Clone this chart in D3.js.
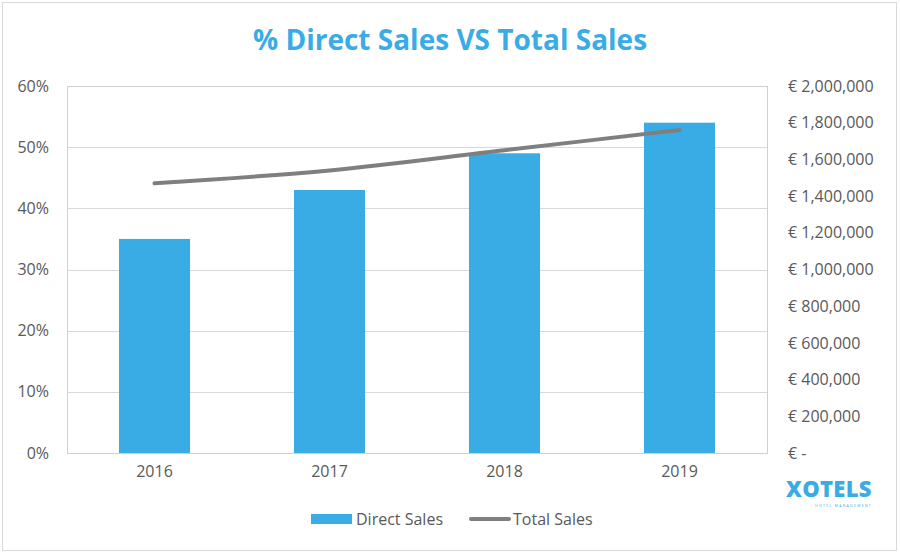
<!DOCTYPE html>
<html><head><meta charset="utf-8">
<script src="https://cdn.jsdelivr.net/npm/d3@7"></script>
<style>body{margin:0;background:#fff;}svg{display:block;}</style>
</head><body>
<svg id="c" width="900" height="554"></svg>
<script>
const years = ["2016", "2017", "2018", "2019"];
const directSales = [0.35, 0.43, 0.49, 0.54];
const totalSales = [1470000, 1540000, 1650000, 1760000];
const leftTicks = [0, 0.1, 0.2, 0.3, 0.4, 0.5, 0.6];
const rightTicks = [0, 200000, 400000, 600000, 800000, 1000000, 1200000, 1400000, 1600000, 1800000, 2000000];
const title = "% Direct Sales VS Total Sales";

const svg = d3.select("#c");
const font = "'Open Sans', sans-serif";
const blue = "#3aace5";
const grey = "#7f7f7f";
const txt = "#595959";

svg.append("rect").attr("x", 2.5).attr("y", 2.5).attr("width", 894).attr("height", 548)
  .attr("fill", "#fff").attr("stroke", "#d9d9d9").attr("stroke-width", 1);

const m = {l: 67, r: 767, t: 86, b: 453};
const x = d3.scaleBand().domain(years).range([m.l, m.r]).paddingInner(0.594).paddingOuter(0.297);
const yL = d3.scaleLinear().domain([0, 0.6]).range([m.b, m.t]);
const yR = d3.scaleLinear().domain([0, 2000000]).range([m.b, m.t]);

// gridlines
svg.append("g").selectAll("line").data(leftTicks).join("line")
  .attr("x1", m.l).attr("x2", m.r)
  .attr("y1", d => Math.round(yL(d)) + 0.5).attr("y2", d => Math.round(yL(d)) + 0.5)
  .attr("stroke", "#d9d9d9").attr("stroke-width", 1);
// plot border
svg.append("rect").attr("x", m.l + 0.5).attr("y", m.t + 0.5).attr("width", m.r - m.l).attr("height", m.b - m.t)
  .attr("fill", "none").attr("stroke", "#d0d0d0").attr("stroke-width", 1);

// left axis
const axL = svg.append("g").attr("transform", `translate(${m.l},0)`)
  .call(d3.axisLeft(yL).tickValues(leftTicks).tickFormat(d3.format(".0%")).tickSize(0).tickPadding(18));
axL.select(".domain").remove();
axL.selectAll("text").attr("font-family", font).attr("font-size", 16).attr("fill", txt);

// right axis
const eur = d => d === 0 ? "€ -" : "€ " + d3.format(",")(d);
const axR = svg.append("g").attr("transform", `translate(${m.r},0)`)
  .call(d3.axisRight(yR).tickValues(rightTicks).tickFormat(eur).tickSize(0).tickPadding(21));
axR.select(".domain").remove();
axR.selectAll("text").attr("font-family", font).attr("font-size", 16).attr("fill", txt);

// bottom axis
const axB = svg.append("g").attr("transform", `translate(0,${m.b})`)
  .call(d3.axisBottom(x).tickSize(0).tickPadding(13));
axB.select(".domain").remove();
axB.selectAll("text").attr("font-family", font).attr("font-size", 16).attr("fill", txt);

// bars
svg.append("g").selectAll("rect").data(years).join("rect")
  .attr("x", d => x(d)).attr("width", x.bandwidth())
  .attr("y", (d, i) => yL(directSales[i])).attr("height", (d, i) => m.b - yL(directSales[i]))
  .attr("fill", blue);

// line
const line = d3.line().x((d, i) => x(years[i]) + x.bandwidth() / 2).y(d => yR(d)).curve(d3.curveMonotoneX);
svg.append("path").datum(totalSales).attr("d", line)
  .attr("fill", "none").attr("stroke", grey).attr("stroke-width", 4).attr("stroke-linecap", "round");

// title
svg.append("text").attr("x", 450).attr("y", 50).attr("text-anchor", "middle")
  .attr("font-family", font).attr("font-weight", "bold").attr("font-size", 28).attr("fill", blue).text(title);

// legend
const lg = svg.append("g");
lg.append("rect").attr("x", 311).attr("y", 514).attr("width", 41).attr("height", 10).attr("fill", blue);
lg.append("text").attr("x", 356).attr("y", 525).attr("font-family", font).attr("font-size", 16).attr("fill", txt).text("Direct Sales");
lg.append("line").attr("x1", 471).attr("x2", 509).attr("y1", 519).attr("y2", 519)
  .attr("stroke", grey).attr("stroke-width", 4).attr("stroke-linecap", "round");
lg.append("text").attr("x", 513).attr("y", 525).attr("font-family", font).attr("font-size", 16).attr("fill", txt).text("Total Sales");

// logo
const logo = svg.append("g");
logo.append("text").attr("x", 786).attr("y", 497).attr("font-family", font).attr("font-weight", 800)
  .attr("font-size", 22).attr("fill", blue).attr("letter-spacing", 0.3).text("XOTELS");
logo.append("text").attr("x", 815).attr("y", 507).attr("font-family", font)
  .attr("font-size", 3.5).attr("fill", blue).attr("letter-spacing", 1.3).text("HOTEL MANAGEMENT");
</script>
</body></html>
